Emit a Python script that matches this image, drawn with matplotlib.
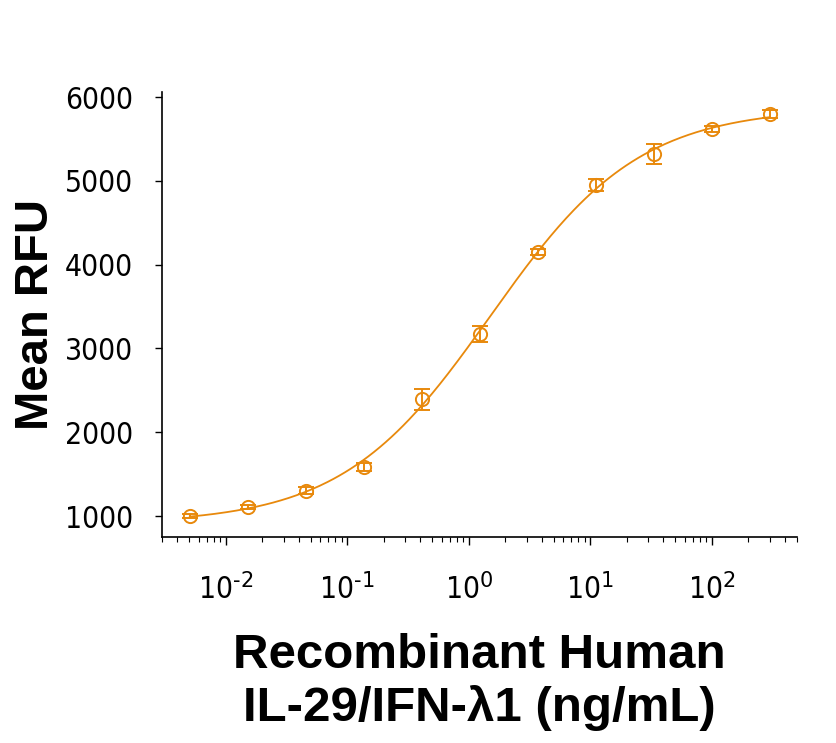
import numpy as np
import matplotlib.pyplot as plt
from matplotlib import font_manager
from matplotlib.ticker import LogLocator, FixedLocator, FuncFormatter, NullFormatter

# Data (3-fold dilution series)
conc = np.array([0.00508, 0.0152, 0.0457, 0.137, 0.412, 1.23, 3.70, 11.1, 33.3, 100.0, 300.0])
rfu = np.array([1000, 1104, 1302, 1588, 2393, 3172, 4150, 4950, 5320, 5614, 5797])
err = np.array([20, 25, 40, 45, 128, 90, 40, 72, 115, 35, 45])

yticks = [1000, 2000, 3000, 4000, 5000, 6000]
xticks = [0.01, 0.1, 1, 10, 100]
xlabel = 'Recombinant Human\nIL-29/IFN-λ1 (ng/mL)'
ylabel = 'Mean RFU'
color = '#E8890C'

# 4-parameter logistic fit (grid search on EC50/hill, linear solve for bottom/top)
best = None
for lec in np.linspace(-1, 1.5, 251):
    for h in np.linspace(0.4, 1.6, 121):
        g = 1.0 / (1.0 + (10**lec / conc)**h)
        A = np.column_stack([1 - g, g])
        coef = np.linalg.lstsq(A, rfu, rcond=None)[0]
        sse = np.sum((A @ coef - rfu)**2)
        if best is None or sse < best[0]:
            best = (sse, lec, h, coef)
_, lec, h, (bottom, top) = best
xf = np.logspace(np.log10(conc[0]), np.log10(conc[-1]), 300)
yf = bottom + (top - bottom) / (1.0 + (10**lec / xf)**h)

# pick a condensed font for the tick labels if one is installed
fonts = font_manager.fontManager.ttflist
names = {f.name for f in fonts}
if 'Liberation Sans Narrow' in names:
    tick_family, tick_stretch = 'Liberation Sans Narrow', 'normal'
else:
    tick_family, tick_stretch = 'DejaVu Sans', 'condensed'
tick_fp = font_manager.FontProperties(family=tick_family, stretch=tick_stretch, size=21.5)
tick_file = font_manager.findfont(tick_fp)
plt.rcParams['mathtext.fontset'] = 'custom'
plt.rcParams['mathtext.rm'] = font_manager.FontProperties(fname=tick_file).get_name()

fig = plt.figure(figsize=(8.37, 7.43), dpi=100)
ax = fig.add_axes([0.1935, 0.2773, 0.7585, 0.5989])

ax.plot(xf, yf, color=color, lw=1.3)
ax.errorbar(conc, rfu, yerr=err, fmt='o', mfc='none', mec=color, ecolor=color,
            ms=9.5, mew=1.4, elinewidth=1.4, capsize=6, capthick=1.4)

ax.set_xscale('log')
ax.set_xlim(0.003, 500)
ax.set_ylim(750, 6060)
ax.set_yticks(yticks)

ax.xaxis.set_major_locator(FixedLocator(xticks))
ax.xaxis.set_minor_locator(LogLocator(base=10, subs=np.arange(2, 10), numticks=20))
ax.xaxis.set_minor_formatter(NullFormatter())
ax.xaxis.set_major_formatter(FuncFormatter(
    lambda v, p: r'$\mathregular{10^{\text{%d}}}$' % int(round(np.log10(v)))))

for s in ['top', 'right']:
    ax.spines[s].set_visible(False)
for s in ['left', 'bottom']:
    ax.spines[s].set_linewidth(1.2)

ax.tick_params(axis='y', length=5, width=1, pad=16)
ax.tick_params(axis='x', which='major', length=6, width=1, pad=20)
ax.tick_params(axis='x', which='minor', length=3.5, width=0.8)
for lab in ax.get_yticklabels() + ax.get_xticklabels():
    lab.set_fontproperties(tick_fp)

ax.set_ylabel(ylabel, fontsize=34, fontweight='bold', family='Liberation Sans')
ax.yaxis.set_label_coords(-0.163, 0.5)
ax.set_xlabel(xlabel, fontsize=35.5, fontweight='bold', family='Liberation Sans',
              linespacing=1.2)
ax.xaxis.set_label_coords(0.5, -0.215)

fig.savefig('out.png', dpi=100)
